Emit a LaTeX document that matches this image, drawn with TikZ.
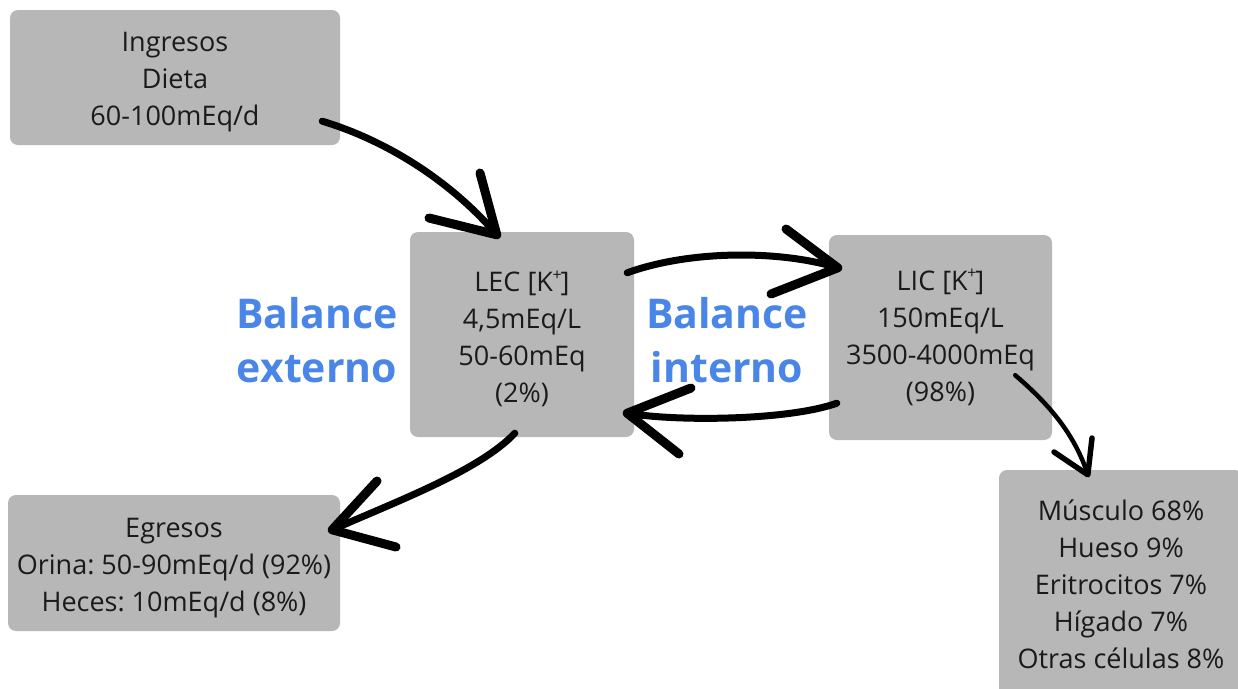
\documentclass[tikz,border=0pt]{standalone}
\usepackage{fontspec}
\setmainfont{Open Sans}
\usetikzlibrary{calc}
\frenchspacing
\definecolor{boxgrey}{HTML}{B7B7B7}
\definecolor{ink}{HTML}{1A1A1A}
\definecolor{balblue}{HTML}{4A86E8}
\tikzset{
  infobox/.style={fill=boxgrey, rounded corners=8pt, inner sep=0pt, align=center,
    text=ink, font=\fontsize{27}{37}\selectfont},
  balance/.style={align=center, text=balblue, inner sep=0pt,
    font=\bfseries\fontsize{41}{54}\selectfont},
  sketch/.style={line width=7pt, line cap=round, line join=round, black},
  barbs/.style={sketch, line width=9pt},
  thinsketch/.style={sketch, line width=4.5pt},
  thinbarbs/.style={sketch, line width=5.5pt},
}
% potassium ion with its charge raised beside the K
\newcommand{\Kplus}{[K\kern-0.5pt\raisebox{0.42em}{\fontsize{16}{16}\selectfont +}\kern-1pt]}
% pushes the first line of a box a little lower
\newcommand{\lowerstrut}{\rule{0pt}{29pt}}
\begin{document}
\begin{tikzpicture}[x=1pt, y=-1pt]
\useasboundingbox (0,0) rectangle (1238,688);
\clip (0,0) rectangle (1238,688);
\fill[white] (0,0) rectangle (1238,688);

% compartments
\node[infobox, minimum width=330pt, minimum height=135pt] (ing) at (175,77.5)
  {\lowerstrut Ingresos\\Dieta\\60-100mEq/d};
\node[infobox, minimum width=224pt, minimum height=205pt] (lec) at (522,334.5)
  {\lowerstrut LEC \Kplus\\4,5mEq/L\\50-60mEq\\(2\%)};
\node[infobox, minimum width=223pt, minimum height=205pt] (lic) at (940.5,337.5)
  {LIC \Kplus\\150mEq/L\\3500-4000mEq\\(98\%)};
\node[infobox, minimum width=332pt, minimum height=136pt] (egr) at (174,563)
  {\lowerstrut Egresos\\Orina: 50-90mEq/d (92\%)\\Heces: 10mEq/d (8\%)};
\node[infobox, minimum width=244pt, minimum height=228pt] (org) at (1121,584)
  {Músculo 68\%\\Hueso 9\%\\Eritrocitos 7\%\\Hígado 7\%\\Otras células 8\%};

% labels
\node[balance] (ext) at (317,340) {Balance\\externo};
\node[balance] (int) at (727,340) {Balance\\interno};

% arrow end points
\coordinate (a1s) at ($(ing.south east)+(-18,-24)$);
\coordinate (a1t) at ($(lec.north west)+(87,3)$);
\coordinate (a2s) at ($(lec.north east)+(-7,41)$);
\coordinate (a2t) at ($(lic.north west)+(9,33)$);
\coordinate (a3s) at ($(lic.south west)+(8,-37)$);
\coordinate (a3t) at ($(lec.south east)+(-7,-24)$);
\coordinate (a4s) at ($(lec.south west)+(105,-4)$);
\coordinate (a4t) at ($(egr.north east)+(-8,35)$);
\coordinate (a5s) at ($(lic.south east)+(-37,-65)$);
\coordinate (a5t) at ($(org.north west)+(89,5)$);

% intake
\draw[sketch] (a1s) .. controls (385,140) and (450,180) .. (a1t);
\draw[barbs] (480,173) -- (a1t) -- (429,218);
% LEC -> LIC
\draw[sketch] (a2s) .. controls (690,250) and (780,250) .. (a2t);
\draw[barbs] (786,229) -- (a2t) -- (771,294);
% LIC -> LEC
\draw[sketch] (a3s) .. controls (790,420) and (680,422) .. (a3t);
\draw[barbs] (691,388) -- (a3t) -- (679,454);
% output
\draw[sketch] (a4s) .. controls (480,470) and (400,500) .. (a4t);
\draw[barbs] (377,481) -- (a4t) -- (396,547);
% distribution among tissues
\draw[thinsketch] (a5s) .. controls (1050,405) and (1075,435) .. (a5t);
\draw[thinbarbs] (1092,438) -- (a5t) -- (1054,452);
\end{tikzpicture}
\end{document}
